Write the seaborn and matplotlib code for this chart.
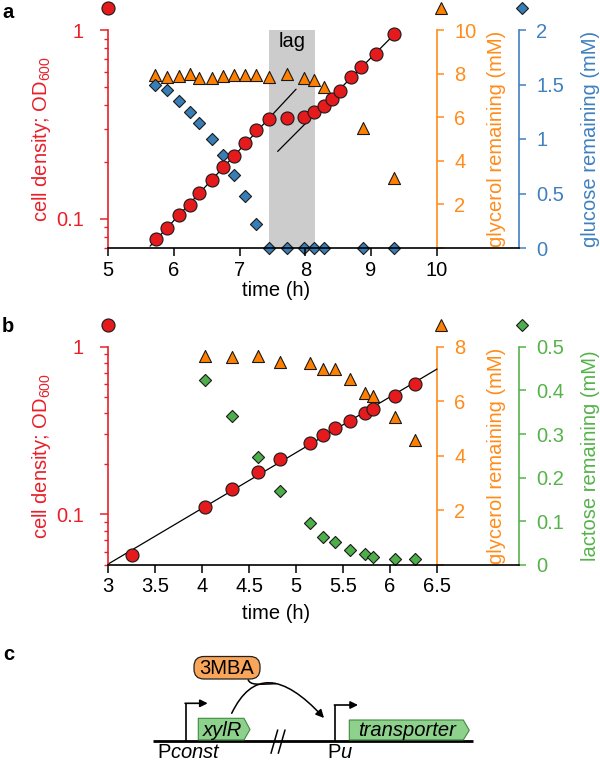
import numpy as np
import matplotlib
matplotlib.use("Agg")
import matplotlib.pyplot as plt
import seaborn as sns
from matplotlib.path import Path
from matplotlib.patches import FancyArrowPatch, FancyBboxPatch, Polygon, PathPatch
from matplotlib.ticker import FixedLocator, FixedFormatter, LogLocator, NullFormatter

# ---- panel a: glucose + glycerol ----
a_time_od = [5.73, 5.90, 6.08, 6.24, 6.39, 6.58, 6.75, 6.92, 7.09, 7.25, 7.455,
             7.72, 7.985, 8.136, 8.28, 8.40, 8.53, 8.69, 8.85, 9.07, 9.35]
a_od = [0.078, 0.089, 0.105, 0.119, 0.137, 0.161, 0.187, 0.214, 0.251, 0.294, 0.337,
        0.342, 0.348, 0.366, 0.397, 0.432, 0.476, 0.562, 0.640, 0.747, 0.953]
a_time_gly = [5.72, 5.90, 6.08, 6.24, 6.39, 6.58, 6.75, 6.92, 7.09, 7.25, 7.455,
              7.72, 7.985, 8.136, 8.28, 8.88, 9.35]
a_gly = [7.94, 7.86, 7.89, 7.98, 7.81, 7.81, 7.89, 7.95, 7.92, 7.95, 7.86,
         7.98, 7.78, 7.71, 7.40, 5.49, 3.23]
a_time_glc = [5.72, 5.90, 6.08, 6.25, 6.39, 6.59, 6.75, 6.92, 7.09, 7.26, 7.455,
              7.73, 7.985, 8.13, 8.29, 8.88, 9.35]
a_glc = [1.50, 1.45, 1.35, 1.25, 1.15, 1.00, 0.85, 0.67, 0.48, 0.22, 0.0,
         0.0, 0.0, 0.0, 0.0, 0.0, 0.0]
# exponential fits: (points used, time range drawn)
a_fits = [(slice(0, 11), 5.64, 7.86), (slice(13, 21), 7.58, 9.40)]
a_lag = (7.45, 8.15)

# ---- panel b: lactose + glycerol ----
b_time = [4.035, 4.316, 4.596, 4.83, 5.149, 5.29, 5.42, 5.574, 5.734, 5.82, 6.05, 6.266]
b_time_od = [3.25] + b_time
b_od = [0.0573, 0.111, 0.142, 0.179, 0.214, 0.267, 0.298, 0.328, 0.363, 0.402,
        0.427, 0.508, 0.597]
b_gly = [7.66, 7.61, 7.66, 7.45, 7.42, 7.20, 7.17, 6.80, 6.31, 6.19, 5.41, 4.58]
b_lac = [0.424, 0.341, 0.248, 0.170, 0.0955, 0.065, 0.053, 0.034, 0.025, 0.019,
         0.013, 0.013]
b_fits = [(slice(0, 13), 3.0, 6.5)]

RED = "#E41A1C"
RED_AX = "#E8202A"
ORANGE = "#FF8000"
ORANGE_AX = "#FF8C1A"
BLUE = "#377EB8"
BLUE_AX = "#3F80C0"
GREEN = "#4DAF4A"
GREEN_AX = "#55B34A"
FS = 14.5

sns.set_theme(style="ticks")
plt.rcParams["font.family"] = ["Liberation Sans", "DejaVu Sans"]
plt.rcParams.update({
    "font.size": FS, "axes.labelsize": FS, "xtick.labelsize": FS, "ytick.labelsize": FS,
    "text.color": "black", "axes.labelcolor": "black",
    "xtick.color": "black", "ytick.color": "black",
    "mathtext.fontset": "custom", "mathtext.rm": "Liberation Sans",
    "mathtext.it": "Liberation Sans:italic",
})

W, H = 600, 762
fig = plt.figure(figsize=(6, 7.62), dpi=100)


def px_rect(left, top, right, bottom):
    return [left / W, 1 - bottom / H, (right - left) / W, (bottom - top) / H]


def growth_panel(rect, xlim, xticks, od_lim, t_od, od, fits, t_sub, gly, gly_max,
                 sub, sub_max, sub_step, sub_color, sub_ax_color, sub_label,
                 xlabel_y, lag=None):
    ax = fig.add_axes(rect)
    ax_gly = ax.twinx()
    ax_sub = ax.twinx()
    ax.set_zorder(3)
    ax_gly.set_zorder(1)
    ax_sub.set_zorder(2)
    for a in (ax, ax_gly, ax_sub):
        a.patch.set_visible(False)

    ax.set_yscale("log")
    t_od = np.array(t_od)
    od = np.array(od)

    if lag is not None:
        ax_gly.axvspan(lag[0], lag[1], color="#CCCCCC", lw=0, zorder=0)
        ax_gly.text((lag[0] + lag[1]) / 2, 0.945, "lag", transform=ax_gly.get_xaxis_transform(),
                    ha="center", va="center", fontsize=FS)

    # fitted exponential growth lines
    for idx, t0, t1 in fits:
        coef = np.polyfit(t_od[idx], np.log10(od[idx]), 1)
        tt = np.linspace(t0, t1, 60)
        sns.lineplot(x=tt, y=10 ** np.polyval(coef, tt), ax=ax, color="black",
                     lw=0.9, estimator=None, sort=False, zorder=2)

    sns.scatterplot(x=t_sub, y=gly, ax=ax_gly, marker="^", s=75, color=ORANGE,
                    edgecolor="#1a1a1a", linewidth=0.8, zorder=3, clip_on=False)
    sns.scatterplot(x=t_sub, y=sub, ax=ax_sub, marker="D", s=38, color=sub_color,
                    edgecolor="#1a1a1a", linewidth=0.8, zorder=3, clip_on=False)
    sns.scatterplot(x=t_od, y=od, ax=ax, marker="o", s=88, color=RED,
                    edgecolor="#1a1a1a", linewidth=0.8, zorder=3, clip_on=False)

    # main axis
    ax.set_xlim(*xlim)
    ax.set_ylim(*od_lim)
    ax.set_xticks(xticks)
    ax.set_xticklabels([f"{t:g}" for t in xticks])
    ax.yaxis.set_major_locator(FixedLocator([0.1, 1]))
    ax.yaxis.set_major_formatter(FixedFormatter(["0.1", "1"]))
    ax.yaxis.set_minor_locator(LogLocator(subs=np.arange(2, 10)))
    ax.yaxis.set_minor_formatter(NullFormatter())
    for s in ("top", "right"):
        ax.spines[s].set_visible(False)
    ax.spines["left"].set_color(RED_AX)
    ax.spines["left"].set_linewidth(1.2)
    ax.spines["bottom"].set_color("black")
    ax.spines["bottom"].set_linewidth(1.2)
    ax.tick_params(axis="y", which="major", colors=RED_AX, length=5.5, width=1.1, pad=12)
    ax.tick_params(axis="y", which="minor", colors=RED_AX, length=2.8, width=1.0)
    ax.tick_params(axis="x", colors="black", length=6, width=1.1, pad=3)
    ax.set_ylabel("cell density; OD$_{600}$", color=RED_AX)
    ax.yaxis.set_label_coords(-0.134, 0.5)
    ax.set_xlabel("time (h)")
    ax.xaxis.set_label_coords(0.41, xlabel_y)

    # glycerol axis
    ax_gly.set_ylim(0, gly_max)
    gticks = np.arange(0, gly_max + 0.01, 2)
    ax_gly.set_yticks(gticks)
    ax_gly.set_yticklabels([""] + [f"{g:g}" for g in gticks[1:]])
    ax_gly.spines["right"].set_position(("axes", 0.8))
    for s in ("top", "left", "bottom"):
        ax_gly.spines[s].set_visible(False)
    ax_gly.spines["right"].set_color(ORANGE_AX)
    ax_gly.spines["right"].set_linewidth(1.2)
    ax_gly.tick_params(axis="y", colors=ORANGE_AX, length=5, width=1.1, pad=7.5)
    ax_gly.set_ylabel("glycerol remaining (mM)", color=ORANGE_AX)
    ax_gly.yaxis.set_label_coords(0.922, 0.5)

    # substrate axis
    ax_sub.set_ylim(0, sub_max)
    sticks = np.round(np.arange(0, sub_max + 1e-9, sub_step), 3)
    ax_sub.set_yticks(sticks)
    ax_sub.set_yticklabels([f"{v:g}" for v in sticks])
    for s in ("top", "left", "bottom"):
        ax_sub.spines[s].set_visible(False)
    ax_sub.spines["right"].set_color(sub_ax_color)
    ax_sub.spines["right"].set_linewidth(1.2)
    ax_sub.tick_params(axis="y", colors=sub_ax_color, length=5, width=1.1, pad=7.5)
    ax_sub.set_ylabel(sub_label, color=sub_ax_color)
    ax_sub.yaxis.set_label_coords(1.151, 0.5)

    # key markers above each axis
    ax.plot([0], [1.101], transform=ax.transAxes, clip_on=False, marker="o", ms=9.4,
            color=RED, mec="#1a1a1a", mew=0.8, ls="none")
    ax_gly.plot([0.81], [1.101], transform=ax_gly.transAxes, clip_on=False, marker="^",
                ms=8.7, color=ORANGE, mec="#1a1a1a", mew=0.8, ls="none")
    ax_sub.plot([1.007], [1.101], transform=ax_sub.transAxes, clip_on=False, marker="D",
                ms=6.2, color=sub_color, mec="#1a1a1a", mew=0.8, ls="none")
    return ax


growth_panel(px_rect(108, 30, 519, 248), (5, 11.25), [5, 6, 7, 8, 9, 10], (0.07, 1),
             a_time_od, a_od, a_fits, a_time_gly, a_gly, 10, a_glc, 2, 0.5,
             BLUE, BLUE_AX, "glucose remaining (mM)", -0.15, lag=a_lag)
growth_panel(px_rect(108, 346.7, 519, 565), (3, 3 + 3.5 * 411 / 329),
             [3, 3.5, 4, 4.5, 5, 5.5, 6, 6.5], (0.05, 1),
             b_time_od, b_od, b_fits, b_time, b_gly, 8, b_lac, 0.5, 0.1,
             GREEN, GREEN_AX, "lactose remaining (mM)", -0.178)

# panel letters
fig.text(2 / W, 1 - 12 / H, "a", fontsize=FS, fontweight="bold", ha="left", va="center")
fig.text(2 / W, 1 - 327 / H, "b", fontsize=FS, fontweight="bold", ha="left", va="center")
fig.text(3 / W, 1 - 654 / H, "c", fontsize=FS, fontweight="bold", ha="left", va="center")

# ---- panel c: genetic circuit schematic (figure pixel coordinates) ----
axc = fig.add_axes([0, 0, 1, 1], zorder=-1)
axc.set_xlim(0, W)
axc.set_ylim(H, 0)
axc.axis("off")

base_y = 740.7
axc.plot([153, 473], [base_y, base_y], color="black", lw=2.0, solid_capstyle="butt")
# break marks
axc.plot([271, 277.7], [753.3, 730], color="black", lw=1.1)
axc.plot([278.3, 285], [753.3, 730], color="black", lw=1.1)

GENE = "#8DD18D"
for x0, x1, top, label in [(198.3, 250, 718.3, "xylR"), (349.3, 469.3, 720, "transporter")]:
    mid = (top + base_y) / 2
    axc.add_patch(Polygon([(x0, base_y - 0.8), (x0, top), (x1 - 6, top), (x1, mid), (x1 - 6, base_y - 0.8)],
                          closed=True, facecolor=GENE, edgecolor="#3f8a3f", lw=0.8, zorder=2))
    axc.text((x0 + x1 - 6) / 2 + 1, mid + 0.5, label, style="italic", fontsize=FS,
             ha="center", va="center", zorder=3)

# promoters
for px, ptop, plen in [(185.7, 703.3, 22), (335, 705, 23)]:
    axc.plot([px, px], [base_y, ptop], color="black", lw=1.2, solid_capstyle="butt")
    axc.add_patch(FancyArrowPatch((px - 0.6, ptop), (px + plen, ptop), arrowstyle="-|>",
                                  mutation_scale=11, color="black", lw=1.2,
                                  shrinkA=0, shrinkB=0))
axc.text(157, 757.5, r"P$\mathit{const}$", fontsize=FS, ha="left", va="baseline")
axc.text(327, 757.5, r"P$\mathit{u}$", fontsize=FS, ha="left", va="baseline")

# inducer
axc.add_patch(FancyBboxPatch((194, 656.5), 66, 22.5, boxstyle="round,pad=0,rounding_size=10",
                             facecolor="#F9A65A", edgecolor="#222222", lw=0.9, zorder=3))
axc.text(227, 668, "3MBA", fontsize=FS, ha="center", va="center", zorder=4)

arc = Path([(231.7, 713.3), (262, 650.4), (324, 718)], [Path.MOVETO, Path.CURVE3, Path.CURVE3])
axc.add_patch(FancyArrowPatch(path=arc, arrowstyle="-|>", mutation_scale=12,
                              color="black", lw=1.1))
merge = Path([(248, 679.3), (250, 685.5), (258, 684.5), (276, 683.6)],
             [Path.MOVETO, Path.CURVE4, Path.CURVE4, Path.CURVE4])
axc.add_patch(PathPatch(merge, facecolor="none", edgecolor="black", lw=1.1))

fig.savefig("out.png", dpi=100)
